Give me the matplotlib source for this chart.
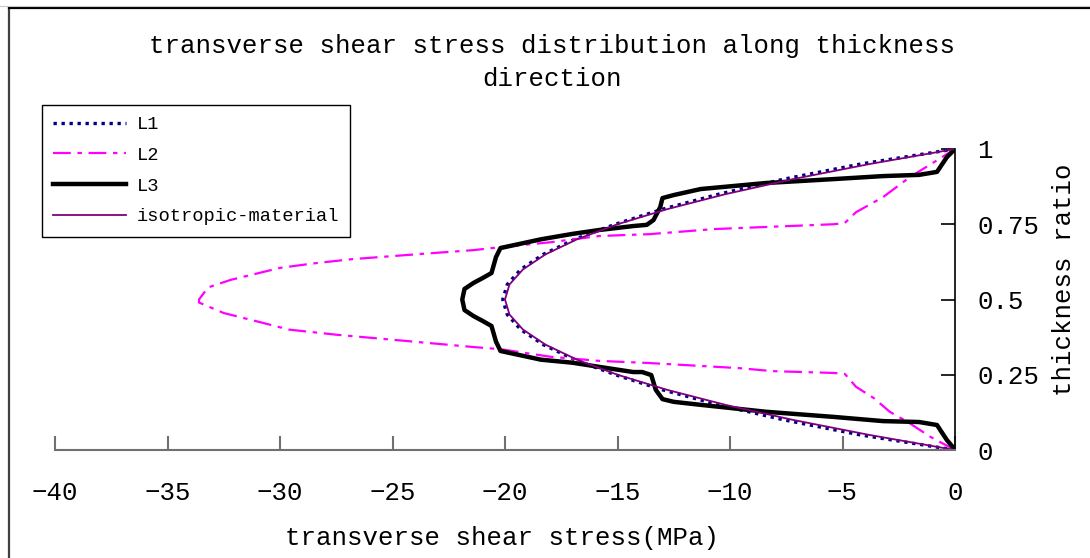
import matplotlib
matplotlib.use("Agg")
import matplotlib.pyplot as plt
from matplotlib.lines import Line2D

# thickness ratio grid used for the smooth solutions
z_grid = [0.0, 0.05, 0.1, 0.15, 0.2, 0.25, 0.3, 0.35, 0.4, 0.45, 0.5,
          0.55, 0.6, 0.65, 0.7, 0.75, 0.8, 0.85, 0.9, 0.95, 1.0]

# isotropic material (MPa)
iso_tau = [0.0, -3.8, -7.2, -10.2, -12.8, -15.0, -16.8, -18.2, -19.2, -19.8, -20.0,
           -19.8, -19.2, -18.2, -16.8, -15.0, -12.8, -10.2, -7.2, -3.8, 0.0]

# L1 layup (MPa)
l1_tau = [0.0, -4.2, -7.6, -10.5, -13.0, -15.1, -16.9, -18.3, -19.3, -19.9, -20.1,
          -19.9, -19.3, -18.3, -16.9, -15.1, -13.0, -10.5, -7.6, -4.2, 0.0]

# L2 layup
l2_tau = [0.0, -1.1, -2.1, -2.9, -3.6, -4.4, -4.9, -5.4, -8.1, -9.6, -13.6, -15.8,
          -18.0, -20.2, -21.4, -24.8, -27.5, -29.6, -30.9, -32.5, -33.6, -33.6,
          -33.2, -32.2, -30.0, -28.5, -26.8, -23.8, -21.4, -20.2, -18.0, -15.8,
          -13.6, -10.7, -5.4, -4.9, -4.4, -3.2, -2.0, -1.0, 0.0]
l2_z = [0.0, 0.044, 0.093, 0.127, 0.172, 0.21, 0.253, 0.256, 0.262, 0.272, 0.289, 0.296,
        0.31, 0.335, 0.342, 0.365, 0.383, 0.40, 0.425, 0.455, 0.49, 0.5,
        0.54, 0.565, 0.605, 0.62, 0.634, 0.651, 0.664, 0.674, 0.69, 0.711,
        0.717, 0.734, 0.75, 0.754, 0.79, 0.84, 0.907, 0.953, 1.0]

# L3 layup
l3_tau = [0.0, -0.1, -0.36, -0.8, -1.6, -3.2, -5.4, -8.4, -11.3, -12.5, -13.0, -13.3,
          -13.5, -13.9, -14.3, -15.8, -17.0, -18.4, -20.2, -20.4, -20.6, -21.0, -21.4,
          -21.8, -21.9, -21.8, -21.4, -21.0, -20.6, -20.4, -20.2, -18.4, -17.0, -15.8,
          -14.3, -13.7, -13.4, -13.1, -13.0, -12.5, -11.3, -8.4, -5.4, -3.2, -1.6,
          -0.8, -0.36, 0.0]
l3_z = [0.0, 0.01, 0.033, 0.083, 0.093, 0.096, 0.11, 0.127, 0.15, 0.16, 0.169, 0.2,
        0.249, 0.259, 0.259, 0.276, 0.29, 0.30, 0.329, 0.36, 0.412, 0.429, 0.445,
        0.465, 0.5, 0.535, 0.555, 0.571, 0.588, 0.641, 0.671, 0.70, 0.718, 0.731,
        0.744, 0.748, 0.764, 0.807, 0.837, 0.847, 0.867, 0.887, 0.90, 0.91, 0.914,
        0.924, 0.973, 1.0]

x_ticks = [-40, -35, -30, -25, -20, -15, -10, -5, 0]
y_ticks = [0, 0.25, 0.5, 0.75, 1]
y_tick_labels = ["0", "0.25", "0.5", "0.75", "1"]

plt.rcParams['font.family'] = ['Liberation Mono', 'DejaVu Sans']

W, H = 1090, 558
fig = plt.figure(figsize=(W / 100, H / 100), dpi=100)

# chart area frame (left and top edges)
fig.add_artist(Line2D([9 / W, 9 / W], [0, 1 - 8 / H], color='#404040', lw=1.6,
                      transform=fig.transFigure))
fig.add_artist(Line2D([9 / W, 1], [1 - 8 / H, 1 - 8 / H], color='black', lw=1.6,
                      transform=fig.transFigure))
fig.add_artist(Line2D([0, 1], [1 - 6 / H, 1 - 6 / H], color='#c8c8c8', lw=0.8,
                      transform=fig.transFigure))

ax = fig.add_axes([55 / W, 1 - 450 / H, 900 / W, 301 / H])

ax.plot(l1_tau, z_grid, color='#000080', lw=2.4, dashes=(1.0, 1.4),
        dash_capstyle='butt', label='L1')
ax.plot(l2_tau, l2_z, color='#ff00ff', lw=1.6, dashes=(8, 3, 2, 3), label='L2')
ax.plot(l3_tau, l3_z, color='black', lw=3.2, label='L3')
ax.plot(iso_tau, z_grid, color='#800080', lw=1.3, label='isotropic-material')

ax.set_xlim(-40, 0)
ax.set_ylim(0, 1)

for side in ['top', 'left']:
    ax.spines[side].set_visible(False)
ax.spines['bottom'].set_color('#707070')
ax.spines['bottom'].set_linewidth(1.5)
ax.spines['right'].set_color('black')
ax.spines['right'].set_linewidth(1.2)

ax.set_xticks(x_ticks)
ax.set_yticks(y_ticks)
ax.set_yticklabels(y_tick_labels)
ax.yaxis.tick_right()
ax.tick_params(axis='x', direction='in', length=10, width=1.5, color='#707070',
               pad=22, labelsize=18.5)
ax.tick_params(axis='y', direction='in', length=10, width=1.2, color='black',
               pad=16, labelsize=18.5)

ax.set_xlabel('transverse shear stress(MPa)', fontsize=18.5)
ax.xaxis.set_label_coords((502 - 55) / 900, (450 - 526) / 301)
ax.yaxis.set_label_position('right')
ax.set_ylabel('thickness ratio', fontsize=18.5)
ax.yaxis.set_label_coords((1052 - 55) / 900, (450 - 280) / 301)

fig.text(552 / W, 1 - 34 / H,
         'transverse shear stress distribution along thickness\ndirection',
         ha='center', va='top', fontsize=18.5, linespacing=1.45)

leg = ax.legend(loc='upper left', bbox_to_anchor=(42 / W, 1 - 105 / H),
                bbox_transform=fig.transFigure, borderaxespad=0, fancybox=False,
                edgecolor='black', framealpha=1, fontsize=13.5, handlelength=3.9,
                handletextpad=0.55, labelspacing=0.72, borderpad=0.6)
leg.get_frame().set_linewidth(1.0)

fig.savefig('out.png', dpi=100)
